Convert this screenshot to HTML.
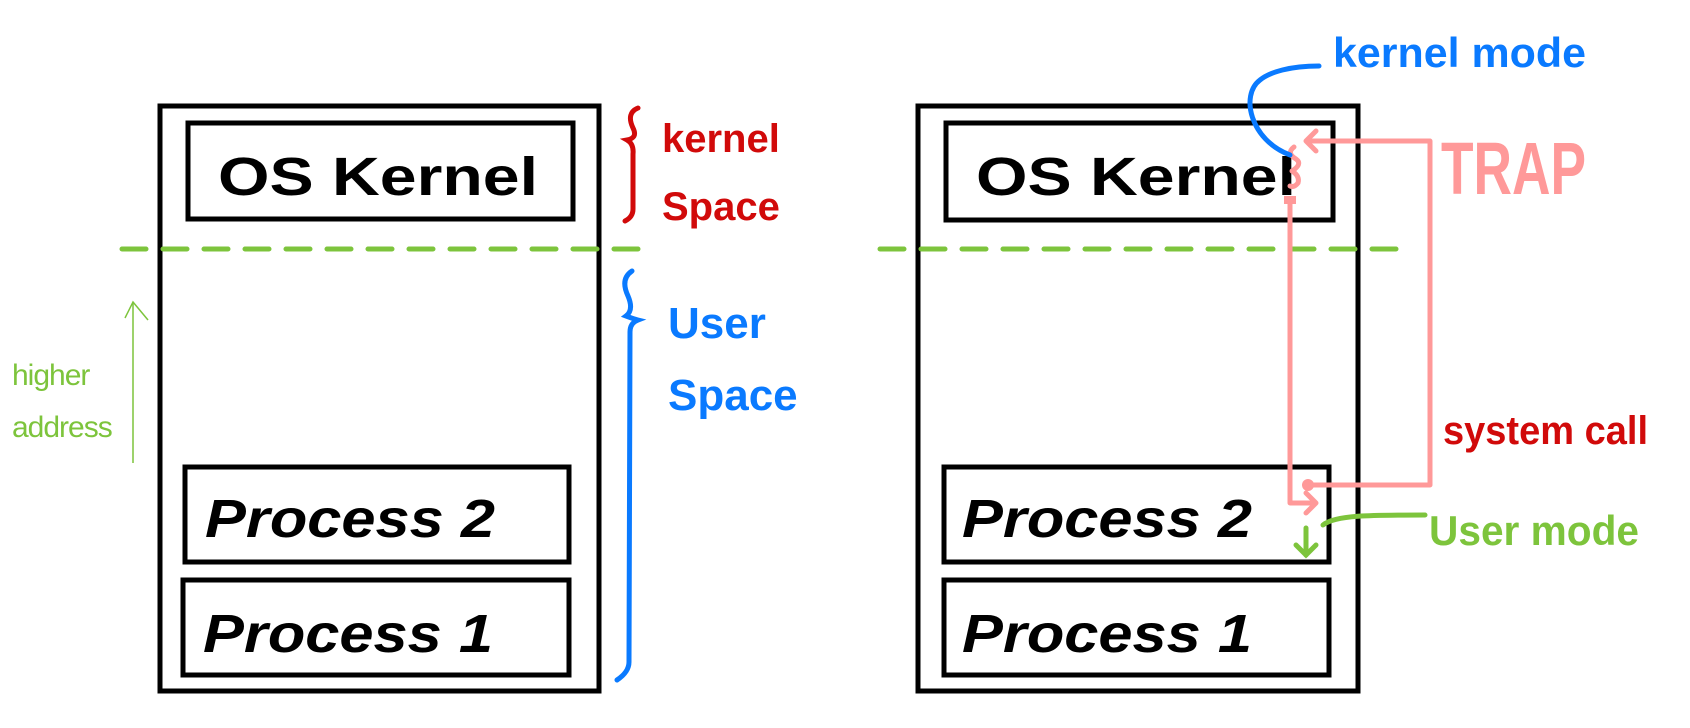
<!DOCTYPE html>
<html><head><meta charset="utf-8"><style>
html,body{margin:0;padding:0;background:#fff;width:1690px;height:728px;overflow:hidden}
svg{display:block}
text{font-family:"Liberation Sans",sans-serif}
</style></head><body>
<svg width="1690" height="728" viewBox="0 0 1690 728" xmlns="http://www.w3.org/2000/svg">
<g fill="none" stroke="#000" stroke-width="5">
<rect x="160" y="106" width="439" height="585"/>
<rect x="188" y="123" width="385" height="96"/>
<rect x="185" y="467" width="384" height="95"/>
<rect x="183" y="580" width="386" height="95"/>
<rect x="918" y="106" width="440" height="585"/>
<rect x="946" y="123" width="387" height="97"/>
<rect x="944" y="467" width="385" height="95"/>
<rect x="944" y="580" width="385" height="95"/>
</g>
<g stroke="#7dc43c" stroke-width="5" stroke-dasharray="24,17" stroke-linecap="round">
<line x1="122" y1="249" x2="638" y2="249"/>
<line x1="880" y1="249" x2="1398" y2="249"/>
</g>
<g font-size="54" fill="#000" font-weight="bold">
<text x="218" y="195" textLength="320" lengthAdjust="spacingAndGlyphs">OS  Kernel</text>
<text x="976" y="195" textLength="320" lengthAdjust="spacingAndGlyphs">OS  Kernel</text>
<text font-style="italic" x="205" y="537" textLength="290" lengthAdjust="spacingAndGlyphs">Process  2</text>
<text font-style="italic" x="203" y="652" textLength="290" lengthAdjust="spacingAndGlyphs">Process  1</text>
<text font-style="italic" x="962" y="537" textLength="290" lengthAdjust="spacingAndGlyphs">Process  2</text>
<text font-style="italic" x="962" y="652" textLength="290" lengthAdjust="spacingAndGlyphs">Process  1</text>
</g>
<path d="M638 108 q-12 5 -5 20 q5 10 -6 12 q7 4 6 14 v55 q0 8 -8 12" fill="none" stroke="#d10a0a" stroke-width="5" stroke-linecap="round"/>
<text x="662" y="152" font-size="40" font-weight="bold" fill="#d10a0a">kernel</text>
<text x="662" y="220" font-size="40" font-weight="bold" fill="#d10a0a">Space</text>
<path d="M632 271 q-12 8 -4 25 q6 14 -2 20 q8 3 12 4 q-8 3 -8 12 l-1 330 q0 10 -12 18" fill="none" stroke="#0a7aff" stroke-width="5" stroke-linecap="round"/>
<text x="668" y="338" font-size="44" font-weight="bold" fill="#0a7aff">User</text>
<text x="668" y="410" font-size="44" font-weight="bold" fill="#0a7aff">Space</text>
<g stroke="#7dc43c" stroke-width="1.5" fill="none">
<line x1="133" y1="463" x2="133" y2="303"/>
<path d="M125 318 L133 302 L148 320"/>
</g>
<text x="12" y="385" font-size="30" fill="#7dc43c" letter-spacing="-1">higher</text>
<text x="12" y="437" font-size="30" fill="#7dc43c" letter-spacing="-1">address</text>
<g stroke="#ff9999" stroke-width="5" fill="none" stroke-linecap="round" stroke-linejoin="round">
<path d="M1307 141 H1430 V485 H1308"/>
<path d="M1316 131 L1306 141 L1316 151"/>
<path d="M1290 199 V503 H1315"/>
<path d="M1306 493 L1316 503 L1306 513"/>
<path d="M1294 147 q-8 6 2 12 q7 5 -4 12 q8 5 6 12 q-4 5 -8 3"/>
</g>
<circle cx="1308" cy="485" r="6" fill="#ff9999"/>
<rect x="1284" y="196" width="12" height="8" fill="#ff9999"/>
<text x="1441" y="194" font-size="74" font-weight="bold" fill="#ff9999" textLength="145" lengthAdjust="spacingAndGlyphs">TRAP</text>
<path d="M1319 66 C1290 66 1270 72 1260 80 C1240 95 1250 140 1290 155" fill="none" stroke="#0a7aff" stroke-width="5" stroke-linecap="round"/>
<text x="1333" y="67" font-size="42" font-weight="bold" fill="#0a7aff" textLength="253" lengthAdjust="spacingAndGlyphs">kernel mode</text>
<text x="1443" y="444" font-size="40" font-weight="bold" fill="#d10a0a" textLength="205" lengthAdjust="spacingAndGlyphs">system call</text>
<path d="M1425 515 C1370 515 1335 515 1323 525" fill="none" stroke="#7dc43c" stroke-width="5" stroke-linecap="round"/>
<g stroke="#7dc43c" stroke-width="5" fill="none" stroke-linecap="round">
<line x1="1306" y1="528" x2="1306" y2="555"/>
<path d="M1296 545 L1306 555 L1316 545"/>
</g>
<text x="1429" y="545" font-size="42" font-weight="bold" fill="#7dc43c" textLength="210" lengthAdjust="spacingAndGlyphs">User mode</text>
</svg>
</body></html>
